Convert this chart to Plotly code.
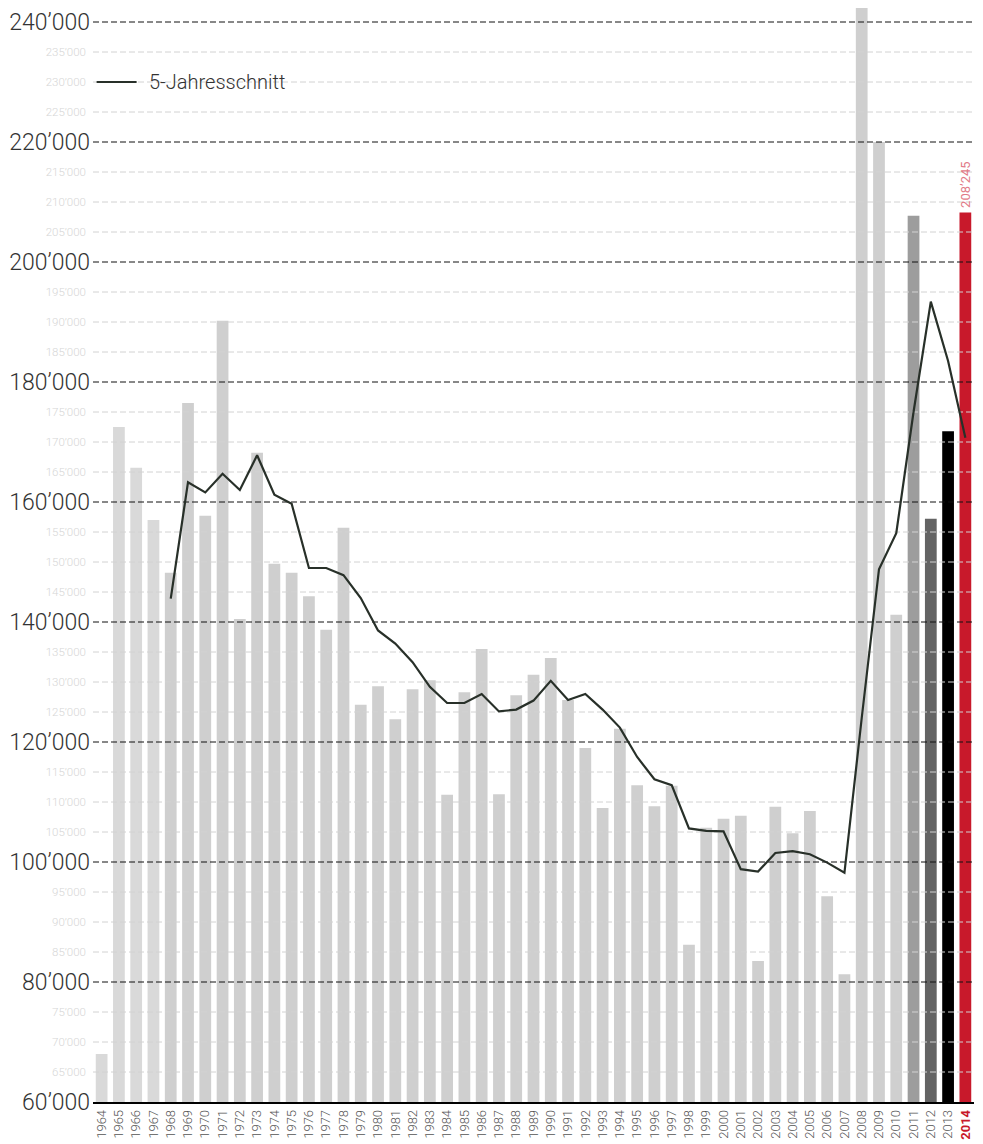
import plotly.graph_objects as go

years = list(range(1964, 2015))
values = [68000, 172500, 165700, 157000, 148200, 176500, 157700, 190200, 140500, 168200,
          149700, 148200, 144300, 138700, 155700, 126200, 129300, 123800, 128800, 130300,
          111200, 128300, 135500, 111300, 127800, 131200, 134000, 127000, 119000, 109000,
          122200, 112800, 109300, 112700, 86200, 105700, 107200, 107700, 83500, 109200,
          104800, 108500, 94300, 81300, 242700, 220000, 141200, 207700, 157200, 171800,
          208245]

avg_years = list(range(1968, 2015))
avg_values = [143900, 163300, 161600, 164700, 162000, 167800, 161200, 159700, 149000, 149000,
              147800, 144000, 138600, 136400, 133300, 129200, 126500, 126500, 128000, 125100,
              125400, 126900, 130200, 127000, 128000, 125400, 122400, 117500, 113800, 112800,
              105600, 105200, 105100, 98800, 98400, 101500, 101800, 101300, 99900, 98200,
              124000, 148800, 154800, 175000, 193400, 183500, 170700]

major_ticks = list(range(60000, 240001, 20000))
minor_ticks = [v for v in range(65000, 240001, 5000) if v % 20000 != 0]
y_range = [60000, 242333]
legend_name = "5-Jahresschnitt"
last_label = "208’245"

LINE_COLOR = "#283029"


def fmt(v):
    return f"{v // 1000}’{v % 1000:03d}"


def bar_color(y):
    special = {2011: "#9d9d9d", 2012: "#646464", 2013: "#000000", 2014: "#c8192b"}
    if y in special:
        return special[y]
    return "#d9d9d9" if y < 1968 else "#cfcfcf"


xt_text = [f'<span style="color:#c8192b"><b>{y}</b></span>' if y == 2014 else str(y) for y in years]

x0, x1 = years[0] - 0.5, years[-1] + 0.5


def grid_xy(vals):
    gx, gy = [], []
    for v in vals:
        gx += [x0, x1, None]
        gy += [v, v, None]
    return gx, gy


fig = go.Figure()
fig.add_trace(go.Bar(x=years, y=values, marker=dict(color=[bar_color(y) for y in years], line_width=0),
                     width=0.68, showlegend=False, hoverinfo="skip"))
mgx, mgy = grid_xy(minor_ticks)
fig.add_trace(go.Scatter(x=mgx, y=mgy, mode="lines", line=dict(color="#d2d2d2", width=1, dash="6px,3px"),
                         showlegend=False, hoverinfo="skip"))
Mgx, Mgy = grid_xy([v for v in major_ticks if v > y_range[0]])
fig.add_trace(go.Scatter(x=Mgx, y=Mgy, mode="lines", line=dict(color="#111111", width=1, dash="6px,3px"),
                         showlegend=False, hoverinfo="skip"))
fig.add_trace(go.Scatter(x=avg_years, y=avg_values, mode="lines", name=legend_name,
                         line=dict(color=LINE_COLOR, width=2.2), showlegend=False))
fig.add_trace(go.Scatter(x=[years[0]], y=[y_range[0]], yaxis="y2", mode="markers",
                         marker=dict(opacity=0), showlegend=False, hoverinfo="skip"))

fig.add_annotation(x=years[-1], y=values[-1], text=last_label, textangle=-90, showarrow=False,
                   yanchor="bottom", yshift=3, font=dict(family="Roboto", size=13, color="#e27b87"))

# legend drawn by hand (longer sample line like the original)
fig.add_shape(type="line", xref="paper", yref="paper", x0=0.0041, x1=0.0495, y0=0.9324, y1=0.9324,
              line=dict(color=LINE_COLOR, width=2))
fig.add_annotation(xref="paper", yref="paper", x=0.061, y=0.9324, xanchor="left", yanchor="middle",
                   text=legend_name, showarrow=False,
                   font=dict(family="Roboto", size=20, color="#333", weight=300))

fig.update_layout(
    width=975, height=1136,
    margin=dict(l=85, r=9, t=0, b=42),
    paper_bgcolor="white", plot_bgcolor="white",
    bargap=0.32,
    font=dict(family="Roboto", color="#333"),
    showlegend=False,
    xaxis=dict(range=[x0, x1], tickvals=years, ticktext=xt_text, tickangle=-90,
               showgrid=False, zeroline=False, showline=True, linecolor="#000", linewidth=1.5,
               ticks="", ticklabelstandoff=1, automargin=False,
               tickfont=dict(family="Roboto", size=13, color="#555", weight=300)),
    yaxis=dict(range=y_range, tickvals=major_ticks, ticktext=[fmt(v) for v in major_ticks],
               showgrid=False, zeroline=False, showline=False, ticks="", automargin=False,
               ticklabelstandoff=2,
               tickfont=dict(family="Roboto", size=23, color="#333", weight=300)),
    yaxis2=dict(range=y_range, overlaying="y", side="left", tickvals=minor_ticks,
                ticktext=[fmt(v) for v in minor_ticks], showgrid=False, zeroline=False,
                showline=False, ticks="", automargin=False, ticklabelstandoff=6,
                tickfont=dict(family="Roboto", size=11.5, color="#d6d6d6", weight=300)),
)

fig.write_html("out.html")
